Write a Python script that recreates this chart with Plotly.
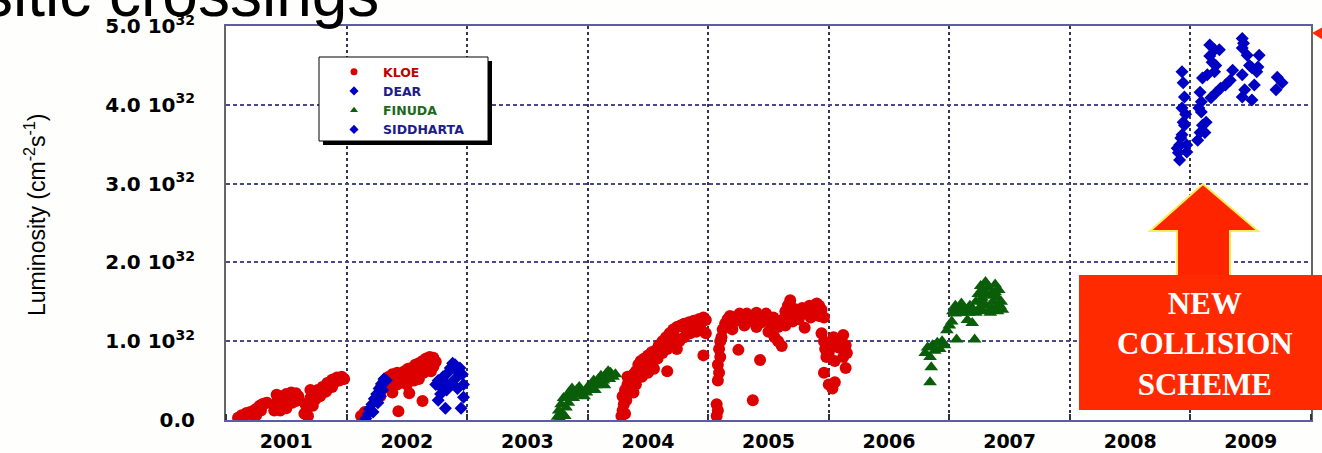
import plotly.graph_objects as go

# ---------------- data: (decimal year, luminosity in units of 1e32 cm^-2 s^-1) ----------------
kloe_2001 = [(2001.10, 0.03), (2001.13, 0.06), (2001.15, 0.04), (2001.17, 0.09), (2001.20, 0.10),
             (2001.22, 0.07), (2001.24, 0.13), (2001.26, 0.15), (2001.28, 0.18), (2001.30, 0.20),
             (2001.32, 0.21), (2001.34, 0.22), (2001.29, 0.12), (2001.25, 0.06),
             (2001.40, 0.12), (2001.41, 0.20), (2001.43, 0.26), (2001.46, 0.30), (2001.50, 0.33),
             (2001.54, 0.35), (2001.58, 0.34), (2001.60, 0.30), (2001.55, 0.22), (2001.50, 0.15),
             (2001.45, 0.12), (2001.58, 0.24), (2001.42, 0.32), (2001.48, 0.25), (2001.52, 0.28),
             (2001.56, 0.30), (2001.44, 0.18),
             (2001.65, 0.08), (2001.67, 0.14), (2001.68, 0.22), (2001.70, 0.28), (2001.73, 0.33),
             (2001.76, 0.38), (2001.80, 0.42), (2001.84, 0.47), (2001.88, 0.51), (2001.92, 0.54),
             (2001.96, 0.55), (2001.98, 0.52), (2001.72, 0.18), (2001.78, 0.30), (2001.83, 0.36),
             (2001.88, 0.42), (2001.66, 0.20), (2001.70, 0.38), (2001.74, 0.26), (2001.80, 0.35),
             (2001.86, 0.45), (2001.90, 0.48), (2001.94, 0.50), (2001.68, 0.05)]
kloe_2002 = [(2002.12, 0.05), (2002.15, 0.10), (2002.28, 0.40), (2002.30, 0.45), (2002.32, 0.50),
             (2002.35, 0.55), (2002.38, 0.58), (2002.42, 0.60), (2002.45, 0.56), (2002.48, 0.62),
             (2002.51, 0.65), (2002.54, 0.66), (2002.57, 0.70), (2002.60, 0.72), (2002.63, 0.75),
             (2002.66, 0.78), (2002.69, 0.80), (2002.72, 0.79), (2002.74, 0.74), (2002.72, 0.68),
             (2002.66, 0.65), (2002.60, 0.62), (2002.55, 0.58), (2002.50, 0.52), (2002.40, 0.50),
             (2002.34, 0.42), (2002.28, 0.30), (2002.52, 0.34), (2002.43, 0.11), (2002.63, 0.24),
             (2002.36, 0.45), (2002.42, 0.45), (2002.46, 0.48), (2002.50, 0.45), (2002.56, 0.50),
             (2002.60, 0.52), (2002.64, 0.60), (2002.68, 0.70), (2002.70, 0.62), (2002.38, 0.35)]
kloe_2004 = [(2004.28, 0.05), (2004.29, 0.12), (2004.30, 0.20), (2004.29, 0.30), (2004.31, 0.38),
             (2004.33, 0.45), (2004.32, 0.25), (2004.34, 0.35), (2004.36, 0.50), (2004.38, 0.58),
             (2004.40, 0.62), (2004.42, 0.70), (2004.44, 0.75), (2004.47, 0.78), (2004.50, 0.82),
             (2004.53, 0.86), (2004.56, 0.88), (2004.59, 0.95), (2004.62, 1.00), (2004.65, 1.05),
             (2004.68, 1.10), (2004.71, 1.15), (2004.74, 1.18), (2004.77, 1.20), (2004.80, 1.22),
             (2004.84, 1.24), (2004.88, 1.26), (2004.92, 1.28), (2004.96, 1.30), (2004.98, 1.27),
             (2004.90, 1.20), (2004.82, 1.14), (2004.72, 1.06), (2004.60, 0.92), (2004.50, 0.76),
             (2004.45, 0.66), (2004.66, 0.62), (2004.96, 0.82), (2004.55, 0.80), (2004.86, 1.18),
             (2004.31, 0.08), (2004.35, 0.42), (2004.40, 0.45), (2004.45, 0.55), (2004.50, 0.60),
             (2004.52, 0.70), (2004.55, 0.65), (2004.58, 0.78), (2004.62, 0.85), (2004.66, 0.90),
             (2004.70, 0.95), (2004.74, 0.90), (2004.76, 1.00), (2004.80, 1.05), (2004.85, 1.10),
             (2004.90, 1.12), (2004.94, 1.15), (2004.98, 1.10), (2004.38, 0.35), (2004.33, 0.55)]
kloe_2005 = [(2005.07, 0.05), (2005.08, 0.12), (2005.07, 0.20), (2005.08, 0.50), (2005.09, 0.60),
             (2005.08, 0.70), (2005.10, 0.80), (2005.09, 0.90), (2005.10, 1.00), (2005.11, 1.05),
             (2005.12, 1.15), (2005.14, 1.22), (2005.16, 1.28), (2005.18, 1.32), (2005.20, 1.30),
             (2005.22, 1.25), (2005.24, 1.32), (2005.26, 1.35), (2005.28, 1.28), (2005.30, 1.33),
             (2005.32, 1.35), (2005.34, 1.30), (2005.36, 1.25), (2005.38, 1.33), (2005.40, 1.36),
             (2005.42, 1.30), (2005.44, 1.24), (2005.46, 1.32), (2005.48, 1.35), (2005.50, 1.28),
             (2005.52, 1.22), (2005.54, 1.30), (2005.56, 1.25), (2005.58, 1.18), (2005.60, 1.22),
             (2005.62, 1.28), (2005.64, 1.38), (2005.66, 1.45), (2005.68, 1.52), (2005.70, 1.42),
             (2005.72, 1.35), (2005.74, 1.40), (2005.76, 1.38), (2005.78, 1.42), (2005.80, 1.35),
             (2005.82, 1.40), (2005.84, 1.45), (2005.86, 1.42), (2005.88, 1.38), (2005.90, 1.48),
             (2005.92, 1.45), (2005.94, 1.40), (2005.96, 1.30), (2005.16, 1.18), (2005.20, 1.15),
             (2005.30, 1.20), (2005.40, 1.18), (2005.50, 1.12), (2005.55, 1.05), (2005.58, 1.00),
             (2005.66, 1.30), (2005.70, 1.25), (2005.75, 1.28), (2005.85, 1.30), (2005.92, 1.32),
             (2005.64, 1.20),
             (2005.25, 0.89), (2005.43, 0.76), (2005.61, 0.94), (2005.80, 1.17), (2005.37, 0.25),
             (2005.94, 1.10), (2005.96, 1.00), (2005.97, 0.90), (2005.98, 0.80), (2006.00, 0.85),
             (2006.02, 0.95), (2006.04, 1.05), (2006.06, 1.00), (2006.08, 0.92), (2006.10, 0.98),
             (2006.12, 1.08), (2006.14, 0.95), (2006.15, 0.85), (2006.12, 0.80), (2006.05, 0.75),
             (2005.99, 0.95), (2005.96, 0.60), (2006.00, 0.45), (2006.03, 0.40), (2006.05, 0.48),
             (2006.14, 0.66)]
dear_2002 = [(2002.16, 0.02), (2002.18, 0.08), (2002.19, 0.14), (2002.21, 0.20), (2002.23, 0.27),
             (2002.25, 0.33), (2002.27, 0.40), (2002.29, 0.46), (2002.31, 0.52), (2002.33, 0.50),
             (2002.30, 0.38), (2002.26, 0.22), (2002.22, 0.10), (2002.28, 0.30),
             (2002.74, 0.45), (2002.76, 0.50), (2002.78, 0.42), (2002.80, 0.55), (2002.82, 0.48),
             (2002.84, 0.60), (2002.86, 0.66), (2002.88, 0.72), (2002.90, 0.70), (2002.92, 0.62),
             (2002.94, 0.66), (2002.96, 0.58), (2002.90, 0.52), (2002.86, 0.45), (2002.83, 0.38),
             (2002.78, 0.33), (2002.76, 0.25), (2002.82, 0.15), (2002.95, 0.15), (2002.97, 0.29),
             (2002.92, 0.40), (2002.97, 0.45)]
finuda_2003 = [(2003.75, 0.04), (2003.76, 0.12), (2003.78, 0.20), (2003.80, 0.28), (2003.79, 0.08),
               (2003.82, 0.16), (2003.83, 0.30), (2003.85, 0.36), (2003.87, 0.40), (2003.89, 0.33),
               (2003.91, 0.38), (2003.93, 0.42), (2003.95, 0.36), (2003.97, 0.30), (2003.99, 0.35),
               (2004.01, 0.40), (2004.03, 0.45), (2004.05, 0.50), (2004.07, 0.44), (2004.09, 0.52),
               (2004.11, 0.56), (2004.13, 0.50), (2004.15, 0.58), (2004.17, 0.62), (2004.19, 0.60),
               (2004.21, 0.55), (2004.23, 0.58), (2003.77, 0.02), (2003.81, 0.05),
               (2003.84, 0.22), (2003.88, 0.28), (2003.92, 0.32), (2004.00, 0.42), (2004.06, 0.38),
               (2004.10, 0.46), (2004.14, 0.44), (2004.18, 0.52)]
finuda_2006 = [(2006.84, 0.48), (2006.85, 0.67), (2006.80, 0.85), (2006.82, 0.92), (2006.84, 0.80),
               (2006.86, 0.95), (2006.88, 0.88), (2006.90, 0.98), (2006.92, 0.90), (2006.94, 1.00),
               (2006.96, 0.95), (2006.98, 1.14), (2007.00, 1.20), (2007.02, 1.25), (2007.06, 1.02),
               (2007.21, 1.02), (2007.03, 1.38), (2007.05, 1.45), (2007.08, 1.40), (2007.10, 1.48),
               (2007.12, 1.42), (2007.14, 1.38), (2007.15, 1.27), (2007.17, 1.45), (2007.19, 1.23),
               (2007.20, 1.40), (2007.22, 1.50), (2007.24, 1.60), (2007.26, 1.70), (2007.28, 1.65),
               (2007.30, 1.75), (2007.32, 1.68), (2007.34, 1.58), (2007.36, 1.62), (2007.38, 1.72),
               (2007.40, 1.55), (2007.42, 1.45), (2007.44, 1.40), (2007.40, 1.38), (2007.35, 1.42),
               (2007.30, 1.45), (2007.25, 1.42), (2007.36, 1.50), (2007.27, 1.55), (2007.43, 1.50),
               (2007.05, 1.35), (2007.10, 1.36), (2007.16, 1.36), (2007.22, 1.36), (2007.28, 1.38),
               (2007.34, 1.36), (2007.40, 1.45), (2007.28, 1.50), (2007.32, 1.58), (2007.38, 1.62),
               (2007.26, 1.62), (2007.41, 1.65)]
siddharta_2008 = [(2008.93, 4.42), (2008.94, 4.28), (2008.95, 4.10), (2008.93, 3.96), (2008.94, 3.78),
                  (2008.95, 3.74), (2008.92, 3.58), (2008.91, 3.49), (2008.90, 3.39), (2008.91, 3.30),
                  (2008.97, 3.49), (2008.97, 3.40), (2008.89, 3.45), (2008.93, 3.62), (2008.96, 3.88),
                  (2009.08, 4.16), (2009.09, 4.04), (2009.09, 3.91), (2009.10, 3.74), (2009.08, 3.65),
                  (2009.12, 3.65), (2009.06, 3.55), (2009.13, 3.78), (2009.07, 3.96),
                  (2009.17, 4.09), (2009.21, 4.15), (2009.25, 4.21), (2009.29, 4.25), (2009.33, 4.31),
                  (2009.16, 4.76), (2009.20, 4.70), (2009.24, 4.70), (2009.18, 4.54), (2009.21, 4.50),
                  (2009.20, 4.42), (2009.14, 4.38), (2009.10, 4.34), (2009.16, 4.62),
                  (2009.35, 4.44), (2009.43, 4.38), (2009.45, 4.19), (2009.43, 4.10), (2009.51, 4.06),
                  (2009.53, 4.25), (2009.43, 4.84), (2009.44, 4.78), (2009.43, 4.72), (2009.47, 4.63),
                  (2009.49, 4.50), (2009.51, 4.47), (2009.57, 4.63), (2009.56, 4.48), (2009.55, 4.42),
                  (2009.72, 4.35), (2009.76, 4.28), (2009.71, 4.19)]

year_labels = ["2001", "2002", "2003", "2004", "2005", "2006", "2007", "2008", "2009"]
year_edges = [2001, 2010]
y_tick_values = [0, 1, 2, 3, 4, 5]
y_tick_text = ["0.0", "1.0 10<sup>32</sup>", "2.0 10<sup>32</sup>", "3.0 10<sup>32</sup>",
               "4.0 10<sup>32</sup>", "5.0 10<sup>32</sup>"]
series_names = ["KLOE", "DEAR", "FINUDA", "SIDDHARTA"]

# ---------------- styling ----------------
W, H = 1322, 453
L, R, T, B = 226, 1311, 26, 420
RED, BLUE, GREEN = "#dd0000", "#0000c4", "#0a5e0a"
TXT = {"KLOE": "#c00000", "DEAR": "#1c1c8c", "FINUDA": "#1a6a1a", "SIDDHARTA": "#1c1c8c"}


def px_x(p):
    return (p - L) / (R - L)


def px_y(p):
    return (B - p) / (B - T)


def split(pts):
    return [p[0] for p in pts], [p[1] for p in pts]


fig = go.Figure()

kx, ky = split(kloe_2001 + kloe_2002 + kloe_2004 + kloe_2005)
dx, dy = split(dear_2002)
fx, fy = split(finuda_2003 + finuda_2006)
sx, sy = split(siddharta_2008)

fig.add_trace(go.Scatter(x=kx, y=ky, mode="markers", showlegend=False,
                         marker=dict(symbol="circle", size=12, color=RED)))
fig.add_trace(go.Scatter(x=dx, y=dy, mode="markers", showlegend=False,
                         marker=dict(symbol="diamond", size=10, color=BLUE)))
fig.add_trace(go.Scatter(x=fx, y=fy, mode="markers", showlegend=False,
                         marker=dict(symbol="triangle-up", size=12, color=GREEN)))
fig.add_trace(go.Scatter(x=sx, y=sy, mode="markers", showlegend=False,
                         marker=dict(symbol="diamond", size=10, color=BLUE)))

# legend-only entries (smaller symbols as in the reference legend)
leg_syms = {"KLOE": ("circle", RED), "DEAR": ("diamond", BLUE),
            "FINUDA": ("triangle-up", GREEN), "SIDDHARTA": ("diamond", BLUE)}
for nm in series_names:
    sym, col = leg_syms[nm]
    fig.add_trace(go.Scatter(x=[None], y=[None], mode="markers",
                             name=f"<span style='color:{TXT[nm]}'><b>{nm}</b></span>",
                             marker=dict(symbol=sym, size=7, color=col)))

shapes = []
# legend shadow + box
shapes.append(dict(type="rect", xref="paper", yref="paper",
                   x0=px_x(323), x1=px_x(492), y0=px_y(145), y1=px_y(61),
                   fillcolor="black", line=dict(width=0), layer="above"))
shapes.append(dict(type="rect", xref="paper", yref="paper",
                   x0=px_x(319), x1=px_x(488), y0=px_y(141), y1=px_y(57),
                   fillcolor="white", line=dict(color="black", width=1), layer="above"))

# up arrow
arrow_pts = [(1203, 184), (1150, 231), (1177, 231), (1177, 278), (1230, 278), (1230, 231), (1258, 231)]
path = "M " + " L ".join(f"{px_x(a)},{px_y(b)}" for a, b in arrow_pts) + " Z"
shapes.append(dict(type="path", xref="paper", yref="paper", path=path,
                   fillcolor="#ff2400", line=dict(color="#ffee55", width=2), layer="above"))
# red box
shapes.append(dict(type="rect", xref="paper", yref="paper",
                   x0=px_x(1079), x1=px_x(1324), y0=px_y(410), y1=px_y(275),
                   fillcolor="#ff2a00", line=dict(width=0), layer="above"))
# small red pointer at top right
tri = [(1312, 33), (1323, 27), (1323, 40)]
shapes.append(dict(type="path", xref="paper", yref="paper",
                   path="M " + " L ".join(f"{px_x(a)},{px_y(b)}" for a, b in tri) + " Z",
                   fillcolor="#ff2a00", line=dict(width=0), layer="above"))

annotations = [
    dict(text="sitic crossings", xref="paper", yref="paper", x=px_x(381), y=px_y(32),
         xanchor="right", yanchor="bottom", showarrow=False,
         font=dict(family="Liberation Sans, Arial", size=64, color="black")),
    dict(text="Luminosity (cm<sup>-2</sup>s<sup>-1</sup>)", xref="paper", yref="paper",
         x=px_x(35), y=px_y(215), xanchor="center", yanchor="middle", textangle=-90,
         showarrow=False, font=dict(family="Liberation Sans, Arial", size=23, color="black")),
    dict(text="<b>NEW<br>COLLISION<br>SCHEME</b>", xref="paper", yref="paper",
         x=px_x(1205), y=px_y(344), xanchor="center", yanchor="middle", showarrow=False,
         font=dict(family="Liberation Serif, Times New Roman, serif", size=31, color="white")),
]

fig.update_layout(
    template="none",
    width=W, height=H, autosize=False,
    margin=dict(l=L, r=W - R, t=T, b=H - B, pad=0),
    paper_bgcolor="#fefefd", plot_bgcolor="white",
    shapes=shapes, annotations=annotations,
    showlegend=True,
    legend=dict(x=px_x(325), y=px_y(57), xanchor="left", yanchor="top",
                bgcolor="rgba(0,0,0,0)", borderwidth=0, tracegroupgap=0,
                font=dict(family="DejaVu Sans", size=12.5), itemwidth=48),
    xaxis=dict(range=year_edges, tickvals=[int(y) + 0.5 for y in year_labels], ticktext=year_labels,
               showgrid=False, zeroline=False, ticks="", showline=True, linecolor="#5c5ca8",
               linewidth=2, mirror=True, ticklabelstandoff=3, automargin=False,
               tickfont=dict(family="DejaVu Sans", size=19, color="black", weight="bold"),
               minor=dict(tick0=2001, dtick=1, showgrid=True, gridcolor="#34344e",
                          griddash="dot", gridwidth=1.5, ticks="inside", ticklen=6,
                          tickcolor="#333333", tickwidth=1.5)),
    yaxis=dict(range=[0, 5], tickvals=y_tick_values, ticktext=y_tick_text,
               showgrid=True, gridcolor="#4a4a88", griddash="4px,3px", gridwidth=1.5,
               zeroline=False, ticks="", showline=True, linecolor="#666666", linewidth=2,
               mirror=True, ticklabelstandoff=25, automargin=False,
               tickfont=dict(family="DejaVu Sans", size=20, color="black", weight="bold")),
)

fig.write_html("out.html", config={"displayModeBar": False},
               post_script="document.body.style.margin='0';")
